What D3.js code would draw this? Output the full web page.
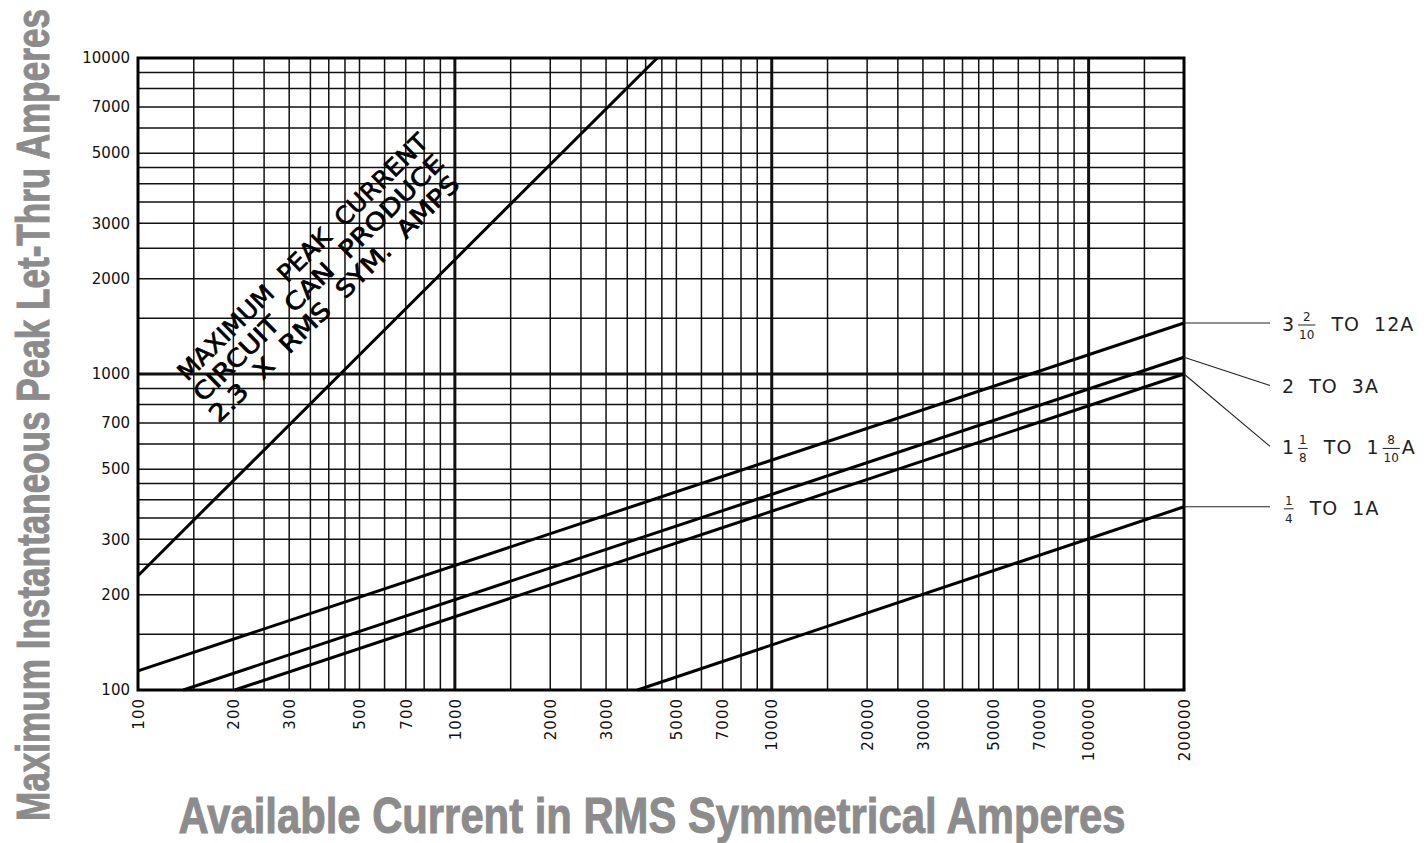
<!DOCTYPE html>
<html><head><meta charset="utf-8">
<script src="https://cdn.jsdelivr.net/npm/d3@7"></script>
<style>body{margin:0;background:#fff} svg{display:block}</style>
</head><body><svg id="c" width="1427" height="843"></svg>
<script>
// ---- data ----
const xTickValues = [100,200,300,500,700,1000,2000,3000,5000,7000,10000,20000,30000,50000,70000,100000,200000];
const yTickValues = [100,200,300,500,700,1000,2000,3000,5000,7000,10000];
const gridMantissas = [1,1.5,2,2.5,3,3.5,4,4.5,5,6,7,8,9];
const xDecades = [100,1000,10000,100000];
const yDecades = [100,1000];
const xMajor = [1000,10000,100000];
const yMajor = [1000];

const maxPeakX = [100, 1000, 4350];
const maxPeakY = [230, 2300, 10000];
const maxPeakText = ["MAXIMUM  PEAK  CURRENT","CIRCUIT  CAN  PRODUCE","2.3  X  RMS  SYM.  AMPS"];
const maxPeakTextAt = [143, 943];

const seriesX = [[100,200000],[139,200000],[202,200000],[3770,200000]];
const seriesY = [[115,1450],[100,1130],[100,1000],[100,380]];
// label parts: plain strings, or [numerator, denominator] fractions
const seriesLabels = [
  ["3", ["2","10"], "  TO  12A"],
  ["2  TO  3A"],
  ["1", ["1","8"], "  TO  1", ["8","10"], "A"],
  [["1","4"], "  TO  1A"]
];
const labelLevels = [1450, 920, 590, 380];

const xTitle = "Available Current in RMS Symmetrical Amperes";
const yTitle = "Maximum Instantaneous Peak Let-Thru Amperes";

// ---- layout ----
const L = 138, R = 1184, T = 58, B = 690;
const svg = d3.select("#c");
const x = d3.scaleLog().domain([100,200000]).range([L,R]);
const y = d3.scaleLog().domain([100,10000]).range([B,T]);

const gridX = [], gridY = [];
xDecades.forEach(d => gridMantissas.forEach(m => { const v = d*m; if (v > 100 && v < 200000) gridX.push(v); }));
yDecades.forEach(d => gridMantissas.forEach(m => { const v = d*m; if (v > 100 && v < 10000) gridY.push(v); }));

const g = svg.append("g");
g.selectAll(".gx").data(gridX).join("line")
  .attr("x1", d => x(d)).attr("x2", d => x(d)).attr("y1", T).attr("y2", B)
  .attr("stroke", "#111").attr("stroke-width", d => xMajor.includes(d) ? 3 : 1.5);
g.selectAll(".gy").data(gridY).join("line")
  .attr("y1", d => y(d)).attr("y2", d => y(d)).attr("x1", L).attr("x2", R)
  .attr("stroke", "#111").attr("stroke-width", d => yMajor.includes(d) ? 3 : 1.5);
g.append("rect").attr("x", L).attr("y", T).attr("width", R-L).attr("height", B-T)
  .attr("fill", "none").attr("stroke", "#000").attr("stroke-width", 3);

// axes
const yAxis = d3.axisLeft(y).tickValues(yTickValues).tickSize(0).tickPadding(8).tickFormat(d3.format("d"));
const ya = svg.append("g").attr("transform", `translate(${L},0)`).call(yAxis);
ya.select(".domain").remove();
ya.selectAll("text").attr("font-family", "DejaVu Sans").attr("font-size", 15).attr("fill", "#111");

const xAxis = d3.axisBottom(x).tickValues(xTickValues).tickSize(0).tickPadding(8).tickFormat(d3.format("d"));
const xa = svg.append("g").attr("transform", `translate(0,${B})`).call(xAxis);
xa.select(".domain").remove();
xa.selectAll("text").attr("font-family", "DejaVu Sans").attr("font-size", 15).attr("fill", "#111")
  .attr("letter-spacing", 1)
  .attr("transform", "rotate(-90)").attr("text-anchor", "end")
  .attr("x", -8).attr("y", 0).attr("dy", "0.35em");

// lines
const line = d3.line().x(d => x(d[0])).y(d => y(d[1]));
svg.append("path").datum(maxPeakX.map((v,i) => [v, maxPeakY[i]]))
  .attr("d", line).attr("fill", "none").attr("stroke", "#000").attr("stroke-width", 3);
seriesX.forEach((xs, i) => {
  svg.append("path").datum(xs.map((v,j) => [v, seriesY[i][j]]))
    .attr("d", line).attr("fill", "none").attr("stroke", "#000").attr("stroke-width", 3);
});

// annotation
const ann = svg.append("g")
  .attr("transform", `translate(${x(maxPeakTextAt[0])},${y(maxPeakTextAt[1])}) rotate(-44.5)`);
maxPeakText.forEach((t, i) => {
  ann.append("text").attr("x", -3.5*i).attr("y", 26*i)
    .attr("font-family", "DejaVu Sans").attr("font-size", 24).attr("fill", "#000")
    .attr("stroke", "#000").attr("stroke-width", 0.7)
    .style("white-space", "pre")
    .attr("textLength", 340).attr("lengthAdjust", "spacingAndGlyphs").text(t);
});

// series labels with leaders
const lx0 = R + 86, tx0 = R + 98;
seriesLabels.forEach((parts, i) => {
  const yEnd = y(seriesY[i][1]);
  const ly = y(labelLevels[i]);
  svg.append("line").attr("x1", R).attr("y1", yEnd).attr("x2", lx0).attr("y2", ly)
    .attr("stroke", "#222").attr("stroke-width", 1.1);
  const base = ly + 8;
  let cx = tx0;
  parts.forEach(p => {
    if (typeof p === "string") {
      const t = svg.append("text").attr("x", cx).attr("y", base)
        .attr("font-family", "DejaVu Sans").attr("font-size", 19).attr("fill", "#222")
        .style("white-space", "pre").attr("letter-spacing", 1).text(p);
      cx += t.node().getComputedTextLength() + 1;
    } else {
      const n = svg.append("text").attr("y", base - 10).attr("font-family", "DejaVu Sans")
        .attr("font-size", 12).attr("fill", "#222").attr("text-anchor", "middle").text(p[0]);
      const d = svg.append("text").attr("y", base + 8).attr("font-family", "DejaVu Sans")
        .attr("font-size", 12).attr("fill", "#222").attr("text-anchor", "middle").text(p[1]);
      const w = Math.max(n.node().getComputedTextLength(), d.node().getComputedTextLength()) + 2;
      n.attr("x", cx + 2 + w/2); d.attr("x", cx + 2 + w/2);
      svg.append("line").attr("x1", cx + 2).attr("x2", cx + 2 + w).attr("y1", base - 6).attr("y2", base - 6)
        .attr("stroke", "#222").attr("stroke-width", 1);
      cx += w + 4;
    }
  });
});

// axis titles (condensed by horizontal scaling to a target length)
function title(txt, tx, ty, rot, size, targetLen) {
  const gg = svg.append("g");
  const t = gg.append("text").attr("x", 0).attr("y", 0).attr("text-anchor", "middle")
    .attr("font-family", "'Liberation Sans Narrow','Liberation Sans',Arial").attr("font-weight", "bold")
    .attr("font-size", size).attr("fill", "#8c8c8c").attr("stroke", "#8c8c8c").attr("stroke-width", 1)
    .text(txt);
  const k = targetLen / t.node().getComputedTextLength();
  gg.attr("transform", `translate(${tx},${ty}) rotate(${rot}) scale(${k},1)`);
}
title(xTitle, 652, 833, 0, 50, 947);
title(yTitle, 49, 415, -90, 46, 812);
</script></body></html>
